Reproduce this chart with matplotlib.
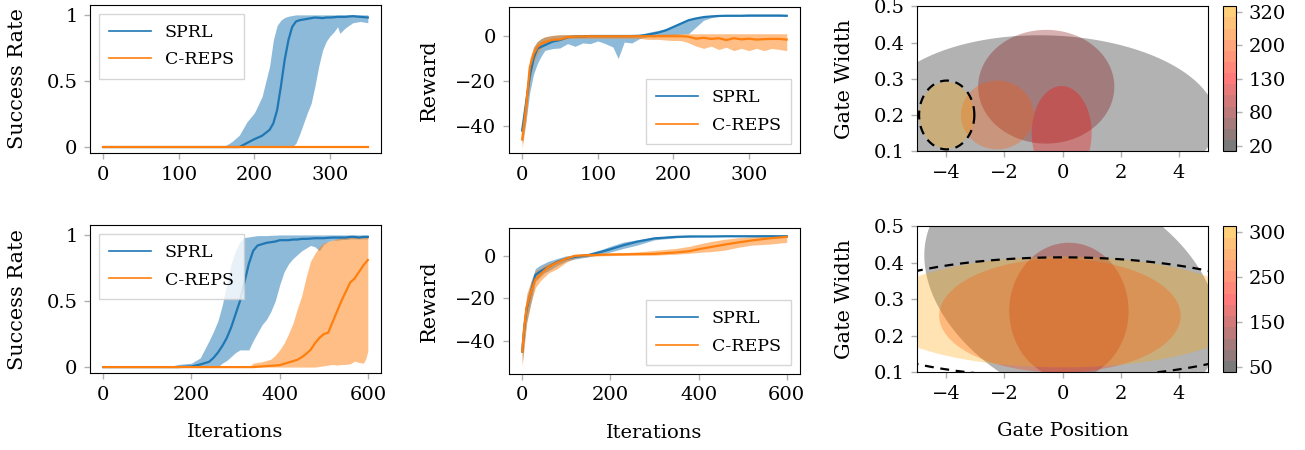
import numpy as np
import matplotlib
matplotlib.use("Agg")
import matplotlib.pyplot as plt
from matplotlib.colors import LinearSegmentedColormap, ListedColormap, BoundaryNorm
from matplotlib.cm import ScalarMappable

plt.rcParams['font.family'] = ['DejaVu Serif']
plt.rcParams['font.size'] = 12.5
plt.rcParams['xtick.labelsize'] = 14
plt.rcParams['ytick.labelsize'] = 14
plt.rcParams['axes.labelsize'] = 14

BLUE = '#1f77b4'
ORANGE = '#ff7f0e'

# ---- success rate, easy task (350 iterations)
it_top = [0, 50, 100, 150, 160, 170, 180, 190, 200, 210, 220, 225, 230, 235, 240, 245, 250,
          255, 260, 265, 270, 275, 280, 285, 290, 295, 300, 305, 310, 313, 320, 330, 340, 350]
sr_sprl_top = [0, 0, 0, 0, 0, 0, 0.0, 0.03, 0.06, 0.085, 0.13, 0.18, 0.28, 0.46, 0.66, 0.81, 0.91,
               0.95, 0.96, 0.965, 0.97, 0.975, 0.98, 0.978, 0.975, 0.98, 0.98, 0.982, 0.985, 0.985, 0.985, 0.99, 0.985, 0.98]
sr_sprl_top_hi = [0, 0, 0, 0, 0.005, 0.04, 0.09, 0.19, 0.26, 0.38, 0.61, 0.81, 0.92, 0.96, 0.98, 0.99, 0.995,
                  1, 1, 1, 1, 1, 1, 1, 1, 1, 1, 1, 1, 1, 1, 1, 1, 1]
sr_sprl_top_lo = [0, 0, 0, 0, 0, 0, 0, 0, 0, 0, 0, 0, 0, 0, 0.01, 0.005, 0,
                  0.03, 0.1, 0.18, 0.26, 0.33, 0.46, 0.61, 0.73, 0.8, 0.84, 0.87, 0.91, 0.86, 0.9, 0.94, 0.95, 0.94]
sr_creps_top = [0] * len(it_top)

# ---- success rate, hard task (600 iterations)
it_bot = [0, 100, 150, 170, 200, 220, 240, 250, 260, 270, 280, 290, 300, 310, 320, 330, 340, 350, 360, 370,
          380, 390, 400, 410, 420, 430, 440, 450, 460, 470, 480, 490, 500, 510, 520, 530, 540, 550, 560, 570,
          580, 590, 595, 600]
sr_sprl_bot = [0, 0, 0, 0, 0.005, 0.02, 0.04, 0.07, 0.11, 0.16, 0.22, 0.3, 0.4, 0.5, 0.64, 0.78, 0.88, 0.92, 0.93, 0.94,
               0.945, 0.95, 0.96, 0.96, 0.96, 0.965, 0.965, 0.97, 0.97, 0.972, 0.975, 0.975, 0.975, 0.978, 0.98, 0.98, 0.98, 0.98, 0.985, 0.985,
               0.98, 0.985, 0.985, 0.985]
sr_sprl_bot_hi = [0, 0, 0.005, 0.02, 0.03, 0.07, 0.2, 0.27, 0.35, 0.47, 0.63, 0.78, 0.88, 0.95, 0.98, 0.985, 0.99, 0.995, 0.995, 0.995,
                  0.997, 0.998, 1, 1, 1, 1, 1, 1, 1, 1, 1, 1, 1, 1, 1, 1, 1, 1, 1, 1,
                  1, 1, 1, 1]
sr_sprl_bot_lo = [0, 0, 0, 0, 0, 0, 0, 0, 0.003, 0.03, 0.05, 0.08, 0.11, 0.13, 0.13, 0.13, 0.2, 0.26, 0.32, 0.36,
                  0.42, 0.5, 0.62, 0.72, 0.78, 0.82, 0.85, 0.88, 0.9, 0.92, 0.91, 0.88, 0.93, 0.95, 0.96, 0.96, 0.965, 0.965, 0.97, 0.97,
                  0.97, 0.97, 0.97, 0.97]
sr_creps_bot = [0, 0, 0, 0, 0, 0, 0, 0, 0, 0, 0, 0, 0, 0, 0, 0, 0, 0.003, 0.005, 0.008,
                0.01, 0.012, 0.015, 0.025, 0.035, 0.045, 0.055, 0.075, 0.1, 0.13, 0.18, 0.22, 0.25, 0.26, 0.34, 0.42, 0.5, 0.57, 0.64, 0.67,
                0.72, 0.77, 0.79, 0.81]
sr_creps_bot_hi = [0, 0, 0, 0, 0, 0, 0, 0, 0, 0, 0, 0, 0, 0, 0, 0, 0.03, 0.035, 0.04, 0.05,
                   0.06, 0.09, 0.13, 0.18, 0.25, 0.33, 0.44, 0.54, 0.68, 0.8, 0.86, 0.91, 0.94, 0.95, 0.96, 0.97, 0.98, 0.99, 0.99, 0.99,
                   0.99, 0.99, 0.99, 0.99]
sr_creps_bot_lo = [0, 0, 0, 0, 0, 0, 0, 0, 0, 0, 0, 0, 0, 0, 0, 0, 0, 0, 0, 0,
                   0, 0, 0, 0, 0, 0, 0, 0, 0, 0, 0, 0.005, 0.01, 0.015, 0.02, 0.015, 0.02, 0.02, 0.025, 0.045,
                   0.035, 0.03, 0.06, 0.12]

# ---- reward, easy task
it_rw_top = [0, 5, 10, 15, 20, 25, 30, 40, 50, 60, 70, 80, 90, 100, 110, 120, 127, 135, 145, 155,
             165, 180, 190, 200, 210, 220, 230, 240, 250, 260, 270, 280, 290, 300, 310, 320, 330, 340, 350]
rw_sprl_top = [-42, -30, -18, -10, -5.6, -4.8, -4.1, -2.5, -1.8, -0.5, -0.3, -0.2, 0, 0, 0, 0, 0, 0, 0, 0.1,
               0.5, 1.5, 2.5, 4, 5.5, 7, 7.8, 8.4, 8.7, 8.9, 9, 9, 9, 9.1, 9.1, 9.1, 9.1, 9.1, 9]
rw_sprl_top_hi = [-40, -25, -12, -5, -2.5, -1.2, -0.5, 0.2, 0.5, 0.5, 0.5, 0.5, 0.5, 0.5, 0.5, 0.5, 0.5, 0.5, 0.5, 0.5,
                  1.5, 2.5, 3.3, 4.7, 6, 7.4, 8.2, 8.7, 9, 9.3, 9.3, 9.3, 9.3, 9.3, 9.3, 9.3, 9.3, 9.3, 9.3]
rw_sprl_top_lo = [-48, -38, -25, -17, -12.3, -9, -6.4, -5.6, -5.3, -3.4, -4.6, -3.1, -3.4, -2.2, -3.4, -4.9, -10, -2.7, -3.1, -1.2,
                  -0.4, -0.1, 0.3, 0.6, 0.8, 1, 4, 7, 8.1, 8.7, 8.7, 8.7, 8.7, 8.7, 8.7, 8.7, 8.7, 8.7, 8.7]
rw_creps_top = [-46, -32, -14, -8, -4.9, -3.5, -2.7, -1.7, -1.5, -0.4, -0.3, -0.2, -0.1, -0.1, -0.1, -0.1, -0.1, -0.1, -0.1, -0.1,
                -0.1, -0.1, -0.1, -0.1, -0.1, -0.3, -1.2, -0.8, -1.3, -1.0, -1.8, -1.0, -1.5, -1.2, -1.6, -1.4, -1.3, -1.3, -1.6]
rw_creps_top_hi = [-42, -26, -10, -5, -2.5, -1.2, -0.3, 0.3, 0.6, 0.6, 0.6, 0.6, 0.6, 0.6, 0.6, 0.6, 0.6, 0.6, 0.6, 0.6,
                   0.7, 0.8, 0.9, 1, 1, 1, 1, 1, 1, 1, 1, 1, 1, 1, 1, 1, 1, 1, 1]
rw_creps_top_lo = [-50, -38, -20, -12, -8, -5.5, -4, -2.5, -2, -1.2, -1, -1, -1, -1, -1, -1, -1, -1, -1, -1,
                   -1.5, -1.5, -1.8, -2, -2, -3, -4.5, -5.5, -4.5, -6, -5, -6.5, -5.5, -6.5, -5.5, -6.5, -5.5, -6, -6.5]

# ---- reward, hard task
it_rw_bot = [0, 5, 10, 20, 30, 40, 50, 60, 80, 100, 120, 150, 180, 200, 230, 260, 300, 350, 380, 400,
             430, 460, 490, 520, 560, 600]
rw_sprl_bot = [-45, -33, -25, -17, -9, -7.5, -6.3, -5.2, -2.8, -1.3, -0.5, 0.3, 1.9, 3.1, 5, 6.6, 8.2, 8.9, 9.1, 9.1,
               9.1, 9.2, 9.2, 9.2, 9.2, 9.2]
rw_sprl_bot_hi = [-40, -28, -20, -12, -6, -4.5, -3.5, -2.5, -1.2, 0, 0.5, 1.2, 3, 4.5, 6.5, 7.5, 8.8, 9.4, 9.5, 9.5,
                  9.5, 9.5, 9.5, 9.5, 9.5, 9.5]
rw_sprl_bot_lo = [-50, -40, -31, -22, -12, -10, -8, -7, -4.5, -2.5, -1.5, -0.5, 0.8, 1.8, 3.5, 5, 7.5, 8.5, 8.8, 8.9,
                  9, 9, 9, 9, 9, 9]
rw_creps_bot = [-45, -33, -24, -17, -11, -9, -7, -5.2, -3.1, -1.3, 0, 0.3, 0.5, 0.6, 0.7, 0.8, 0.9, 1.6, 2.2, 3.1,
                4.2, 5.3, 6.3, 7.2, 8.2, 8.9]
rw_creps_bot_hi = [-40, -28, -18, -12, -7, -6, -4.5, -3.5, -2, -0.5, 0.7, 1, 1.2, 1.4, 1.5, 1.8, 2.5, 3.5, 4.5, 5.5,
                   6.8, 7.8, 8.5, 9, 9.3, 9.4]
rw_creps_bot_lo = [-52, -42, -32, -22, -15, -12, -10, -8, -6, -3, -1, -0.3, 0, 0.1, 0.2, 0.3, 0.3, 0.8, 1.2, 1.6,
                   2.0, 2.7, 4.0, 5, 5.5, 6.3]

# ---- context distributions (2-sigma ellipses): mean, std, correlation, colour band
ctx_top_mx = [-0.5, -0.56, -0.03, -2.24, -3.98]
ctx_top_my = [0.194, 0.278, 0.15, 0.2, 0.199]
ctx_top_sx = [2.9, 1.17, 0.515, 0.625, 0.465]
ctx_top_sy = [0.113, 0.0785, 0.065, 0.0475, 0.046]
ctx_top_rho = [-0.05, 0, 0, 0, 0]
ctx_top_band = [0, 3, 6, 9, 12]
target_top = (-3.98, 0.2, 0.475, 0.0475)

ctx_bot_mx = [0.3, 0.22, -0.09, 0.0]
ctx_bot_my = [0.32, 0.268, 0.255, 0.265]
ctx_bot_sx = [2.525, 1.025, 2.075, 3.25]
ctx_bot_sy = [0.162, 0.0935, 0.078, 0.076]
ctx_bot_rho = [-0.31, 0, 0, 0]
ctx_bot_band = [0, 4, 8, 12]
target_bot = (0.0, 0.25, 3.96, 0.0825)

cbar_top_ticks = [0, 3, 6, 9, 12]
cbar_top_labels = ['20', '80', '130', '200', '320']
cbar_bot_ticks = [0, 4, 8, 12]
cbar_bot_labels = ['50', '150', '250', '300']

n_bands = 13
base_cmap = LinearSegmentedColormap.from_list('curr', ['black', 'red', 'orange'])
band_rgb = [base_cmap(i / (n_bands - 1))[:3] for i in range(n_bands)]


def ellipse_pts(mx, my, sx, sy, rho, n=200):
    t = np.linspace(0, 2 * np.pi, n)
    cov = np.array([[sx ** 2, rho * sx * sy], [rho * sx * sy, sy ** 2]])
    L = np.linalg.cholesky(cov)
    pts = 2 * L @ np.vstack([np.cos(t), np.sin(t)])
    return pts[0] + mx, pts[1] + my


def style(ax):
    for s in ax.spines.values():
        s.set_linewidth(0.8)
    ax.tick_params(direction='out', length=4, width=1, color='#b0b0b0', pad=5)


def curve_panel(ax, x, m1, lo1, hi1, m2, lo2, hi2, loc):
    ax.fill_between(x, lo1, hi1, color=BLUE, alpha=0.5, lw=0)
    ax.fill_between(x, lo2, hi2, color=ORANGE, alpha=0.5, lw=0)
    ax.plot(x, m1, color=BLUE, lw=1.6, label='SPRL')
    ax.plot(x, m2, color=ORANGE, lw=1.6, label='C-REPS')
    leg = ax.legend(loc=loc, fancybox=False, framealpha=0.8, edgecolor='#cccccc',
                    handlelength=2.4, borderpad=0.6, labelspacing=0.6, fontsize=12.5,
                    borderaxespad=0.5)
    for h in leg.get_lines():
        h.set_linewidth(1.2)
    style(ax)


def context_panel(fig, ax, cax, mx, my, sx, sy, rho, band, target, ticks, labels):
    for i in range(len(mx)):
        ex, ey = ellipse_pts(mx[i], my[i], sx[i], sy[i], rho[i])
        ax.fill(ex, ey, color=band_rgb[band[i]], alpha=0.3, lw=0)
    tx, ty = ellipse_pts(target[0], target[1], target[2], target[3], 0)
    ax.plot(tx, ty, color='black', lw=1.6, ls=(0, (4, 3)))
    ax.set_xlim(-5, 5)
    ax.set_ylim(0.1, 0.5)
    ax.set_xticks([-4, -2, 0, 2, 4])
    ax.set_yticks([0.1, 0.2, 0.3, 0.4, 0.5])
    ax.set_ylabel('Gate Width', fontsize=15, labelpad=14)
    style(ax)
    cmap = ListedColormap([(*c, 0.52) for c in band_rgb])
    norm = BoundaryNorm(np.arange(n_bands + 1) - 0.5, n_bands)
    sm = ScalarMappable(norm=norm, cmap=cmap)
    cb = fig.colorbar(sm, cax=cax, ticks=ticks)
    cb.set_ticklabels(labels)
    cb.minorticks_off()
    cb.outline.set_linewidth(0.8)
    cax.tick_params(direction='out', length=4, width=1, color='#b0b0b0', pad=5)


fig = plt.figure(figsize=(13.05, 4.5), dpi=100)

ax1 = fig.add_axes([0.0690, 0.660, 0.2230, 0.329])
ax2 = fig.add_axes([0.3900, 0.660, 0.2230, 0.324])
ax3 = fig.add_axes([0.7027, 0.664, 0.2230, 0.322])
cax3 = fig.add_axes([0.9372, 0.664, 0.0100, 0.322])
ax4 = fig.add_axes([0.0690, 0.171, 0.2230, 0.329])
ax5 = fig.add_axes([0.3900, 0.169, 0.2230, 0.324])
ax6 = fig.add_axes([0.7027, 0.173, 0.2230, 0.324])
cax6 = fig.add_axes([0.9372, 0.173, 0.0100, 0.324])

curve_panel(ax1, it_top, sr_sprl_top, sr_sprl_top_lo, sr_sprl_top_hi,
            sr_creps_top, sr_creps_top, sr_creps_top, 'upper left')
ax1.set_xlim(-17.5, 367.5)
ax1.set_ylim(-0.045, 1.075)
ax1.set_xticks([0, 100, 200, 300])
ax1.set_yticks([0, 0.5, 1])
ax1.set_yticklabels(['0', '0.5', '1'])
ax1.set_ylabel('Success Rate', fontsize=15, labelpad=14)

curve_panel(ax4, it_bot, sr_sprl_bot, sr_sprl_bot_lo, sr_sprl_bot_hi,
            sr_creps_bot, sr_creps_bot_lo, sr_creps_bot_hi, 'upper left')
ax4.set_xlim(-30, 630)
ax4.set_ylim(-0.045, 1.075)
ax4.set_xticks([0, 200, 400, 600])
ax4.set_yticks([0, 0.5, 1])
ax4.set_yticklabels(['0', '0.5', '1'])
ax4.set_ylabel('Success Rate', fontsize=15, labelpad=14)
ax4.set_xlabel('Iterations', labelpad=14)

curve_panel(ax2, it_rw_top, rw_sprl_top, rw_sprl_top_lo, rw_sprl_top_hi,
            rw_creps_top, rw_creps_top_lo, rw_creps_top_hi, 'lower right')
ax2.set_xlim(-17.5, 367.5)
ax2.set_ylim(-52, 12.8)
ax2.set_xticks([0, 100, 200, 300])
ax2.set_yticks([-40, -20, 0])
ax2.set_ylabel('Reward', fontsize=15, labelpad=12)

curve_panel(ax5, it_rw_bot, rw_sprl_bot, rw_sprl_bot_lo, rw_sprl_bot_hi,
            rw_creps_bot, rw_creps_bot_lo, rw_creps_bot_hi, 'lower right')
ax5.set_xlim(-30, 630)
ax5.set_ylim(-55.5, 13)
ax5.set_xticks([0, 200, 400, 600])
ax5.set_yticks([-40, -20, 0])
ax5.set_ylabel('Reward', fontsize=15, labelpad=12)
ax5.set_xlabel('Iterations', labelpad=14)

context_panel(fig, ax3, cax3, ctx_top_mx, ctx_top_my, ctx_top_sx, ctx_top_sy, ctx_top_rho,
              ctx_top_band, target_top, cbar_top_ticks, cbar_top_labels)
context_panel(fig, ax6, cax6, ctx_bot_mx, ctx_bot_my, ctx_bot_sx, ctx_bot_sy, ctx_bot_rho,
              ctx_bot_band, target_bot, cbar_bot_ticks, cbar_bot_labels)
ax6.set_xlabel('Gate Position', labelpad=14)

fig.savefig('out.png', dpi=100)
